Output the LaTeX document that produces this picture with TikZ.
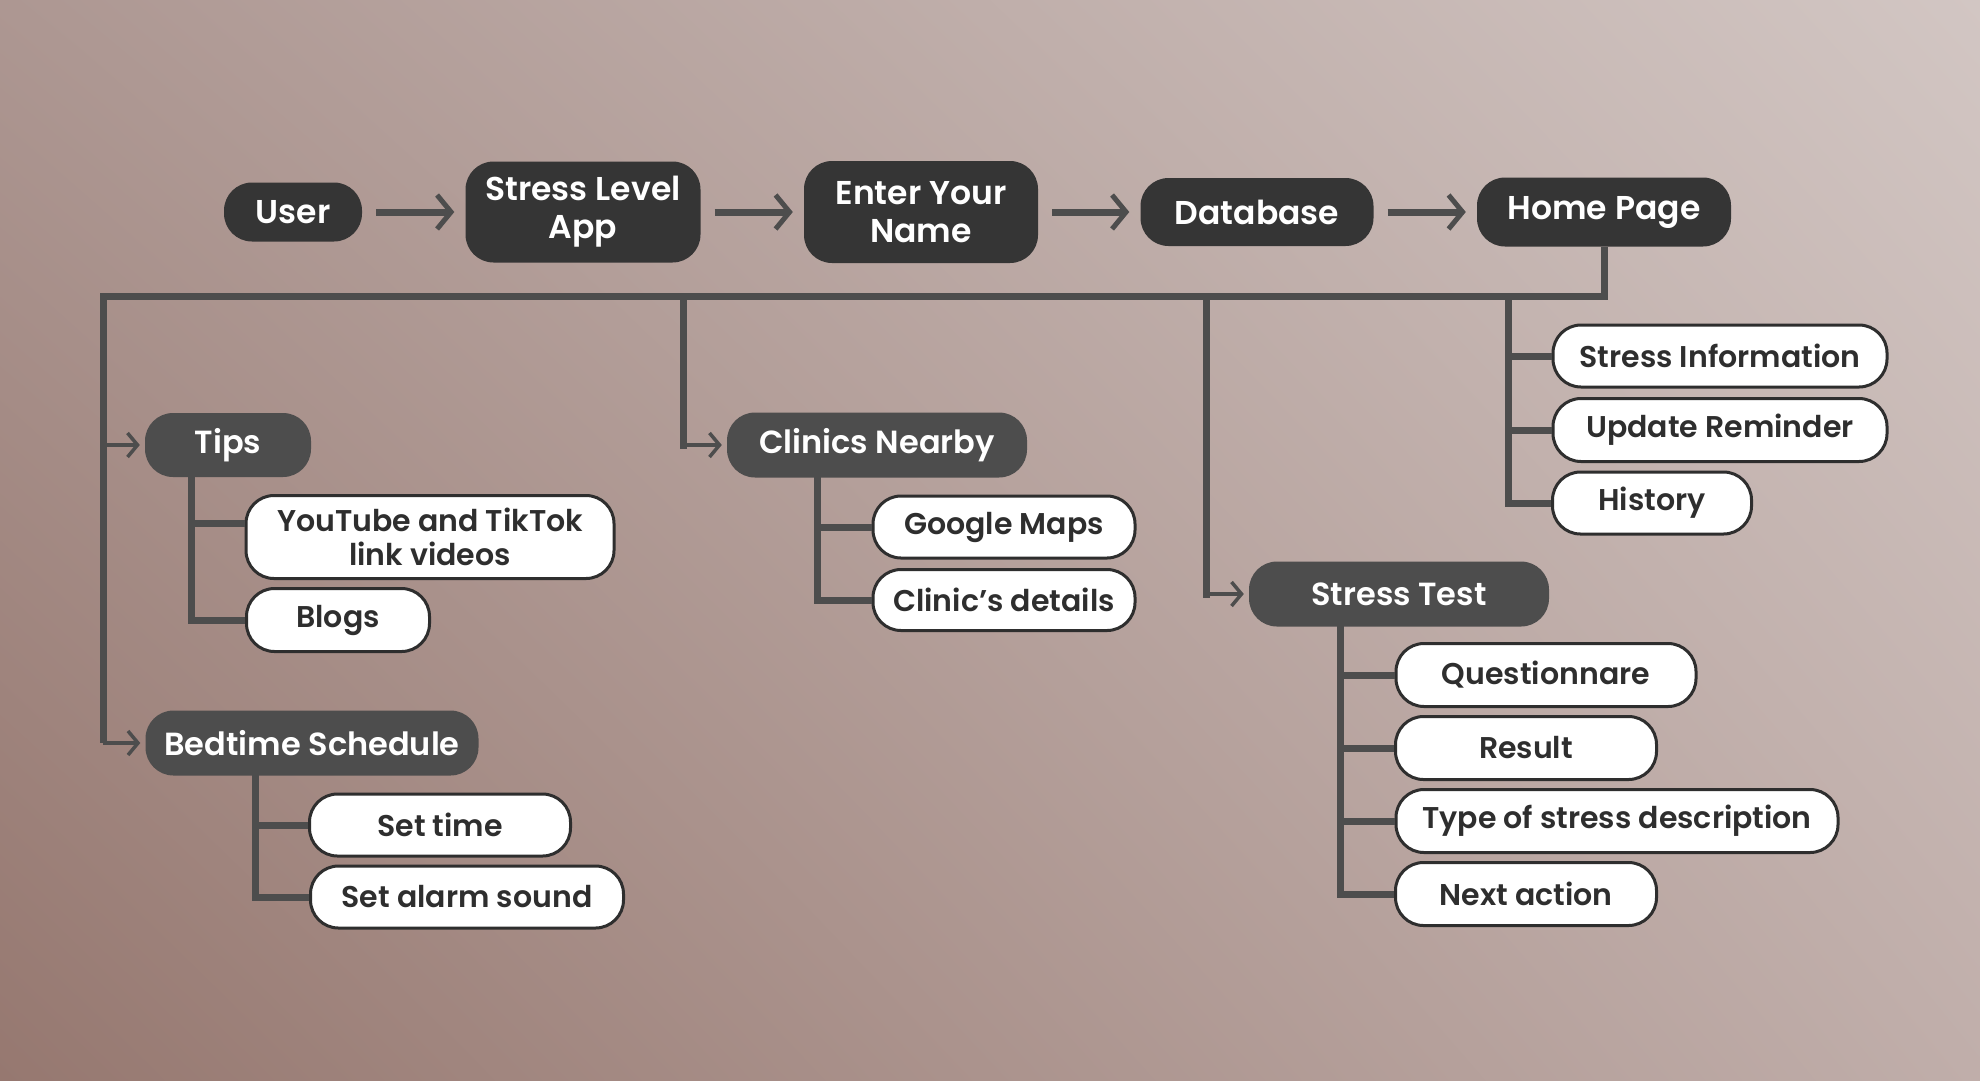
\documentclass[tikz,border=0pt]{standalone}
\usepackage{fontspec}
\setmainfont{Poppins}[UprightFont={* Medium}, BoldFont={* SemiBold}]
\usepackage{xcolor}
\usepackage{tikz}
\usetikzlibrary{arrows.meta, positioning, calc, shadings}

\definecolor{bgLL}{HTML}{967870}
\definecolor{bgUL}{HTML}{AD9792}
\definecolor{bgUR}{HTML}{D2C6C3}
\definecolor{bgLR}{HTML}{C0AEAA}
\definecolor{topdark}{HTML}{353535}
\definecolor{midgray}{HTML}{4D4D4D}
\definecolor{leafline}{HTML}{2E2E2E}

\begin{document}
\begin{tikzpicture}[
    x=1pt, y=-1pt,
    % styles
    main_block/.style={
        fill=topdark, text=white, rounded corners=28pt, align=center, inner sep=0pt,
        font=\bfseries\fontsize{33}{38}\selectfont
    },
    topic_block/.style={
        fill=midgray, text=white, rounded corners=28pt, align=center, inner sep=0pt,
        font=\bfseries\fontsize{32}{36}\selectfont
    },
    leaf_block/.style={
        draw=leafline, line width=3pt, fill=white, text=leafline, rounded corners=28pt,
        align=center, inner sep=0pt, font=\bfseries\fontsize{30}{34}\selectfont
    },
    bus/.style={
        draw=midgray, line width=7pt
    },
    stem/.style={
        draw=midgray, line width=7pt
    },
    flow_arrow/.style={
        -{Straight Barb[length=14pt, width=34pt, line width=5pt]}, draw=midgray,
        line width=7pt, shorten <=14pt, shorten >=11pt
    },
    branch_arrow/.style={
        -{Straight Barb[length=10pt, width=24pt, line width=3.5pt]}, draw=midgray,
        line width=4pt, shorten >=5pt
    }
]

    % --- 0. BACKGROUND ---
    \shade[lower left=bgLL, upper left=bgUL, upper right=bgUR, lower right=bgLR] (0,0) rectangle (1980,1080);
    \useasboundingbox (0,0) rectangle (1980,1080);

    % --- 1. MAIN FLOW (Top) ---
    \node[main_block, minimum width=138pt, minimum height=59pt] (user) at (293,212) {User};
    \node[main_block, minimum width=235pt, minimum height=101pt] (app) at (583,212) {Stress Level\\App};
    \node[main_block, minimum width=234pt, minimum height=102pt] (name) at (921,212) {Enter Your\\Name};
    \node[main_block, minimum width=233pt, minimum height=68pt] (db) at (1257,212) {Database};
    \node[main_block, minimum width=254pt, minimum height=69pt] (home) at (1604,212) {Home Page};

    \draw[flow_arrow] (user.east) -- (app.west);
    \draw[flow_arrow] (app.east) -- (name.west);
    \draw[flow_arrow] (name.east) -- (db.west);
    \draw[flow_arrow] (db.east) -- (home.west);

    % --- 2. FEATURE BLOCKS ---
    \node[topic_block, minimum width=166pt, minimum height=64pt] (tips) at (228,445) {Tips};
    \node[topic_block, minimum width=300pt, minimum height=65pt] (clinics) at (877,445) {Clinics Nearby};
    \node[topic_block, minimum width=300pt, minimum height=65pt] (stress_test) at (1399,594) {Stress Test};
    \node[topic_block, minimum width=333pt, minimum height=65pt] (bedtime) at (312,743) {Bedtime Schedule};

    % Home Page items
    \node[leaf_block, minimum width=334pt, minimum height=62pt] (stress_info) at (1720,356) {Stress Information};
    \node[leaf_block, minimum width=334pt, minimum height=63pt] (reminder) at (1720,430) {Update Reminder};
    \node[leaf_block, minimum width=199pt, minimum height=62pt] (history) at (1652,503) {History};

    % Tips items
    \node[leaf_block, minimum width=368pt, minimum height=83pt] (videos) at (430,537) {YouTube and TikTok\\link videos};
    \node[leaf_block, minimum width=183pt, minimum height=63pt] (blogs) at (338,620) {Blogs};

    % Clinics items
    \node[leaf_block, minimum width=262pt, minimum height=62pt] (maps) at (1004,527) {Google Maps};
    \node[leaf_block, minimum width=262pt, minimum height=61pt] (clinic_details) at (1004,600) {Clinic’s details};

    % Stress Test items
    \node[leaf_block, minimum width=300pt, minimum height=63pt] (questionnare) at (1546,675) {Questionnare};
    \node[leaf_block, minimum width=261pt, minimum height=63pt] (result) at (1526,748) {Result};
    \node[leaf_block, minimum width=442pt, minimum height=63pt] (stress_type) at (1617,821) {Type of stress description};
    \node[leaf_block, minimum width=261pt, minimum height=63pt] (next_action) at (1526,894) {Next action};

    % Bedtime items
    \node[leaf_block, minimum width=261pt, minimum height=62pt] (set_time) at (440,825) {Set time};
    \node[leaf_block, minimum width=313pt, minimum height=62pt] (alarm) at (467,897) {Set alarm sound};

    % --- 3. DISTRIBUTION BUS ---
    \coordinate (bus_left) at (103,296);
    \coordinate (clinic_drop) at (683,296);
    \coordinate (test_drop) at (1206,296);
    \coordinate (home_drop) at (1508,296);

    \draw[bus] (home.south) |- (bus_left) -- (bus_left |- bedtime.west);
    \draw[bus, line cap=rect] (clinic_drop) -- (clinic_drop |- clinics.west);
    \draw[bus, line cap=rect] (test_drop) -- (test_drop |- stress_test.west);
    \draw[bus, line cap=rect] (home_drop) -- (home_drop |- history.west);

    \draw[branch_arrow] (bus_left |- tips.west) -- (tips.west);
    \draw[branch_arrow] (bus_left |- bedtime.west) -- (bedtime.west);
    \draw[branch_arrow] (clinic_drop |- clinics.west) -- (clinics.west);
    \draw[branch_arrow] (test_drop |- stress_test.west) -- (stress_test.west);

    % Home Page ticks
    \draw[stem] (home_drop |- stress_info.west) -- (stress_info.west);
    \draw[stem] (home_drop |- reminder.west) -- (reminder.west);
    \draw[stem] (home_drop |- history.west) -- (history.west);

    % --- 4. SUB-ITEM STEMS ---
    \coordinate (tips_stem) at ([xshift=47pt]tips.south west);
    \coordinate (videos_port) at ([yshift=14pt]videos.west);
    \draw[stem, line cap=rect] (tips_stem) -- (tips_stem |- blogs.west);
    \draw[stem] (tips_stem |- videos_port) -- (videos_port);
    \draw[stem] (tips_stem |- blogs.west) -- (blogs.west);

    \coordinate (clinics_stem) at ([xshift=91pt]clinics.south west);
    \draw[stem, line cap=rect] (clinics_stem) -- (clinics_stem |- clinic_details.west);
    \draw[stem] (clinics_stem |- maps.west) -- (maps.west);
    \draw[stem] (clinics_stem |- clinic_details.west) -- (clinic_details.west);

    \coordinate (test_stem) at ([xshift=92pt]stress_test.south west);
    \draw[stem, line cap=rect] (test_stem) -- (test_stem |- next_action.west);
    \draw[stem] (test_stem |- questionnare.west) -- (questionnare.west);
    \draw[stem] (test_stem |- result.west) -- (result.west);
    \draw[stem] (test_stem |- stress_type.west) -- (stress_type.west);
    \draw[stem] (test_stem |- next_action.west) -- (next_action.west);

    \coordinate (bedtime_stem) at ([xshift=110pt]bedtime.south west);
    \draw[stem, line cap=rect] (bedtime_stem) -- (bedtime_stem |- alarm.west);
    \draw[stem] (bedtime_stem |- set_time.west) -- (set_time.west);
    \draw[stem] (bedtime_stem |- alarm.west) -- (alarm.west);

\end{tikzpicture}
\end{document}
